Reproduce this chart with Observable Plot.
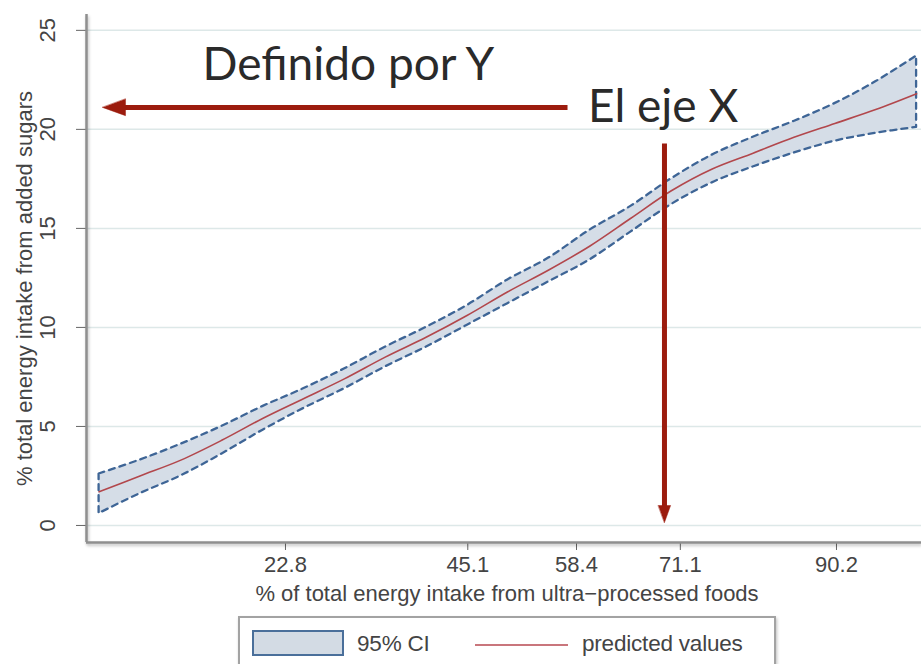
<!DOCTYPE html>
<html><head><meta charset="utf-8">
<script src="https://cdn.jsdelivr.net/npm/d3@7"></script>
<script src="https://cdn.jsdelivr.net/npm/@observablehq/plot@0.6"></script>
<style>
body{margin:0;background:#fff;}
#wrap{position:relative;width:921px;height:664px;overflow:hidden;font-family:"Liberation Sans",Arial,sans-serif;}
#wrap svg{display:block;}
#legend{position:absolute;left:238px;top:616px;width:534px;height:70px;border:2px solid #a3a3a3;box-shadow:1px 2px 3px rgba(0,0,0,0.25);background:#fff;}
#legend .sw{position:absolute;left:12px;top:12px;width:88px;height:22px;background:#d3dbe4;border:2px solid #4a6f9a;}
#legend .ln{position:absolute;left:235px;top:26px;width:93px;height:2px;background:#c9767c;}
#legend .t{position:absolute;top:12px;font-size:22.5px;color:#444;line-height:28px;letter-spacing:-0.2px;}
</style></head><body><div id="wrap"></div>
<script>
// ---- data ----
const xs        = [0, 5, 10, 15, 20, 25, 30, 35, 40, 45, 50, 55, 60, 65, 70, 75, 80, 85, 90, 95, 100];
const predicted = [1.7, 2.5, 3.3, 4.3, 5.4, 6.4, 7.4, 8.5, 9.5, 10.6, 11.8, 12.9, 14.1, 15.5, 16.9, 18.0, 18.8, 19.6, 20.3, 21.0, 21.8];
const ciUpper   = [2.6, 3.3, 4.1, 5.0, 6.0, 6.9, 7.9, 9.0, 10.0, 11.1, 12.4, 13.5, 14.9, 16.1, 17.5, 18.7, 19.6, 20.4, 21.3, 22.4, 23.7];
const ciLower   = [0.6, 1.6, 2.5, 3.6, 4.8, 5.9, 6.9, 8.0, 9.0, 10.1, 11.2, 12.3, 13.4, 14.8, 16.2, 17.3, 18.1, 18.8, 19.4, 19.8, 20.1];
const xTicks = [22.8, 45.1, 58.4, 71.1, 90.2];
const yTicks = [0, 5, 10, 15, 20, 25];
const xTitle = "% of total energy intake from ultra\u2212processed foods";
const yTitle = "% total energy intake from added sugars";
const legendLabels = ["95% CI", "predicted values"];
const annotationTexts = ["Definido por Y", "El eje X"];

// annotation anchors (data units)
const annotX = [30.5, 69.0];
const annotY = [22.5, 20.35];
const annotWidths = [294, 148];
const shafts = [
  {x1: 57.3, y1: 21.11, x2: 3.1, y2: 21.11},
  {x1: 69.16, y1: 19.29, x2: 69.16, y2: 0.96}
];
const heads = [
  {x: 0.42, y: 21.11, rotate: -90, length: 23},
  {x: 69.16, y: 0.15, rotate: 180, length: 17}
];

const xDomain = [-1.54, 100.6];
const yDomain = [-0.86, 25.8];

const rows = xs.map((x, i) => ({x, pred: predicted[i], lo: ciLower[i], hi: ciUpper[i]}));
const annots = annotationTexts.map((t, i) => ({text: t, x: annotX[i], y: annotY[i]}));

const red = "#9c1c0e";
const headShape = {
  draw(context, l) {
    const w = l * 0.72;
    context.moveTo(0, -l);
    context.lineTo(-w / 2, 0);
    context.lineTo(w / 2, 0);
    context.closePath();
  }
};

const chart = Plot.plot({
  width: 921, height: 610,
  marginLeft: 86, marginRight: 0, marginTop: 14, marginBottom: 68,
  style: {fontFamily: "'Liberation Sans', Arial, sans-serif", fontSize: "22px", color: "#444", background: "transparent", overflow: "visible"},
  x: {domain: xDomain},
  y: {domain: yDomain},
  length: {type: "identity"},
  marks: [
    Plot.gridY(yTicks, {stroke: "#dde8e8", strokeOpacity: 1, strokeWidth: 1.5}),
    Plot.areaY(rows, {x: "x", y1: "lo", y2: "hi", fill: "#d5dde7", stroke: "#3e6596", strokeWidth: 2.3, strokeDasharray: "6,5", curve: "catmull-rom"}),
    Plot.line(rows, {x: "x", y: "pred", stroke: "#b2474c", strokeWidth: 1.6, curve: "catmull-rom"}),
    Plot.axisX(xTicks, {tickSize: 8, tickPadding: 6, tickFormat: d => d.toFixed(1), stroke: "#666", fill: "#444", fontSize: 22, label: null}),
    Plot.axisY(yTicks, {tickSize: 10, tickPadding: 22, tickRotate: -90, stroke: "#666", fill: "#444", fontSize: 22, label: null}),
    Plot.ruleX([xDomain[0]], {stroke: "#8f8f8f", strokeWidth: 2.5}),
    Plot.ruleY([yDomain[0]], {stroke: "#8f8f8f", strokeWidth: 2.5}),
    Plot.text([xTitle], {frameAnchor: "bottom", dx: 3, dy: 58, lineAnchor: "bottom", fill: "#444", fontSize: 22, ariaLabel: "xtitle"}),
    Plot.text([yTitle], {frameAnchor: "left", rotate: -90, dx: -62, dy: 10, fill: "#444", fontSize: 22, textAnchor: "middle", lineAnchor: "middle", ariaLabel: "ytitle"}),
    Plot.link(shafts, {x1: "x1", y1: "y1", x2: "x2", y2: "y2", stroke: red, strokeWidth: 5, ariaLabel: "arrowshaft"}),
    Plot.vector(heads, {x: "x", y: "y", rotate: "rotate", length: "length", anchor: "end", shape: headShape, fill: red, stroke: red, strokeWidth: 0.5, ariaLabel: "arrowhead"}),
    Plot.text(annots, {x: "x", y: "y", text: "text", fontSize: 46, fontFamily: "Lato, 'Open Sans', sans-serif", fill: "#2a2a2a", lineAnchor: "bottom", textAnchor: "middle", ariaLabel: "annot"})
  ]
});

document.getElementById("wrap").appendChild(chart);
chart.querySelectorAll('g[aria-label="annot"] text').forEach((t, i) => {
  t.setAttribute("textLength", annotWidths[i]);
  t.setAttribute("lengthAdjust", "spacingAndGlyphs");
});
chart.querySelectorAll('g[aria-label="xtitle"] text').forEach(t => {
  t.setAttribute("textLength", 531);
  t.setAttribute("lengthAdjust", "spacingAndGlyphs");
});
chart.querySelectorAll('g[aria-label="ytitle"] text').forEach(t => {
  t.setAttribute("textLength", 423);
  t.setAttribute("lengthAdjust", "spacingAndGlyphs");
});
chart.querySelectorAll('g[aria-label="arrowshaft"], g[aria-label="arrowhead"]').forEach(g => {
  g.style.filter = "drop-shadow(2px 3px 2px rgba(0,0,0,0.3))";
});
chart.querySelectorAll('g[aria-label="rule"]').forEach(g => {
  g.style.filter = "drop-shadow(1px 2px 1.5px rgba(0,0,0,0.25))";
});

const lg = document.createElement("div");
lg.id = "legend";
lg.innerHTML = `<div class="sw"></div><div class="t" style="left:117px">${legendLabels[0]}</div><div class="ln"></div><div class="t" style="left:342px">${legendLabels[1]}</div>`;
document.getElementById("wrap").appendChild(lg);
</script></body></html>
